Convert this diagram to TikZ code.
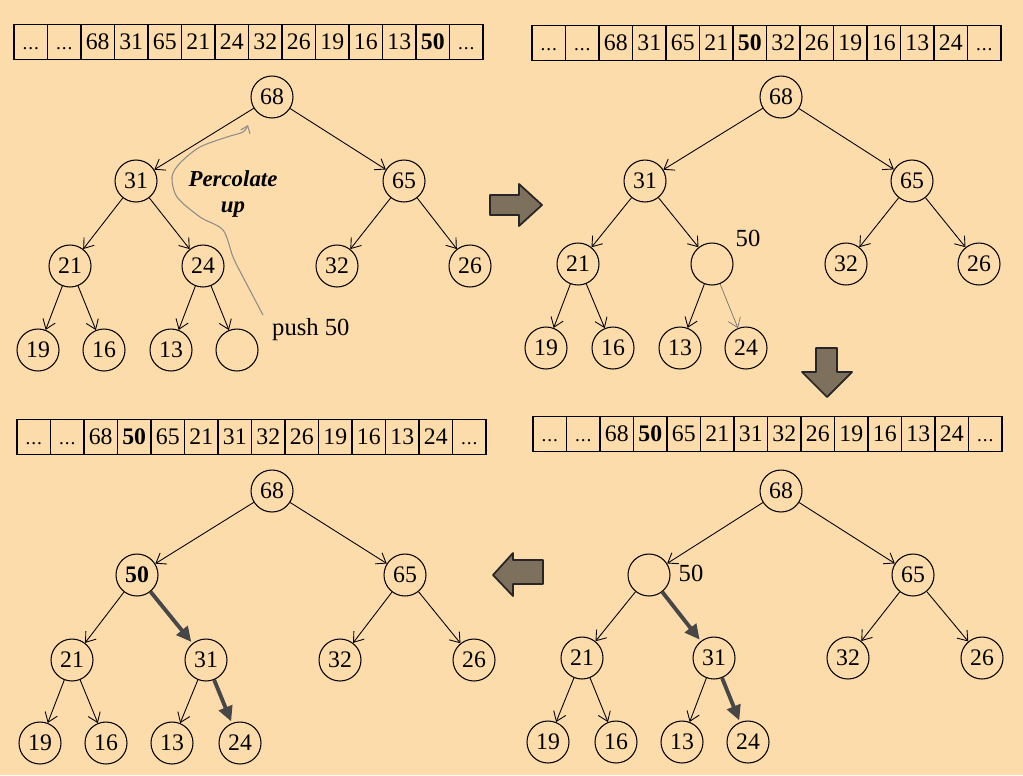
\documentclass[tikz,border=0pt]{standalone}
\usepackage{fontspec}
\setmainfont{Liberation Serif}
\usetikzlibrary{arrows.meta}
\definecolor{bg}{RGB}{252,220,170}
\definecolor{blockfill}{RGB}{125,112,92}
% dots kept on the digit baseline by a phantom digit
\newcommand\etcdots{\vphantom{0}{\fontsize{11}{13}\selectfont .\kern0.5pt.\kern0.5pt.}}
\newcommand\cellrow[4]{%
  \foreach \v [count=\i] in {#4} {
    \node[cell] (#1-\i) at ({#2+(\i-1)*33.5},#3) {\v};
  }}
\begin{document}
\begin{tikzpicture}[x=0.02cm,y=-0.02cm,
  key/.style={circle,draw,line width=0.6pt,minimum size=0.84cm,inner sep=0pt,font=\fontsize{13.5}{15}\selectfont},
  edge/.style={-{Straight Barb[length=1.8mm,width=2.6mm]},line width=0.5pt},
  faint/.style={edge,draw=black!55,line width=0.4pt},
  swap/.style={-{Triangle[length=3mm,width=2.8mm]},line width=2.2pt,draw=black!72,shorten >=1pt},
  cell/.style={draw,line width=0.7pt,minimum width=0.67cm,minimum height=0.7cm,inner sep=0pt,outer sep=0pt,anchor=west,font=\fontsize{13.5}{15}\selectfont},
  block/.style={fill=blockfill,draw=black!85,line width=1pt,line join=round},
  lbl/.style={font=\fontsize{14}{16}\selectfont}]

% background
\fill[bg] (0,0) rectangle (1023,775);

% ---------- step 1: push 50 at the end ----------
\cellrow{A}{14}{42}{\etcdots,\etcdots,68,31,65,21,24,32,26,19,16,13,{\textbf{50}},\etcdots}
\node[key] (A68) at (272,97) {68};
\node[key] (A31) at (136,181) {31};
\node[key] (A65) at (404,181) {65};
\node[key] (A21) at (70,266) {21};
\node[key] (A24) at (203,266) {24};
\node[key] (A32) at (337,266) {32};
\node[key] (A26) at (470,266) {26};
\node[key] (A19) at (38,350) {19};
\node[key] (A16) at (104,350) {16};
\node[key] (A13) at (171,350) {13};
\node[key] (Anew) at (237,350) {};
\node[lbl,anchor=west] (Apush) at (266,330) {push 50};
\draw[edge] (A68) -- (A31);
\draw[edge] (A68) -- (A65);
\draw[edge] (A31) -- (A21);
\draw[edge] (A31) -- (A24);
\draw[edge] (A65) -- (A32);
\draw[edge] (A65) -- (A26);
\draw[edge] (A21) -- (A19);
\draw[edge] (A21) -- (A16);
\draw[edge] (A24) -- (A13);
\draw[edge] (A24) -- (Anew);
\node[lbl,font=\fontsize{13}{15}\selectfont\bfseries\itshape,align=center] (Aperc) at (233,194) {Percolate\\up};
\draw[black!45,line width=0.6pt,-{Straight Barb[length=1.3mm,width=2mm]}]
  plot[smooth] coordinates {(263,315) (243,277) (233,257) (223,230) (200,217)
  (177,197) (172,177) (180,163) (200,147) (227,137) (243,132) (248,125)};

% block arrow to the right
\draw[block] (490,195) -- (519,195) -- (519,184) -- (542,205) -- (519,226) -- (519,215) -- (490,215) -- cycle;

% ---------- step 2: 50 swaps with 24 ----------
\cellrow{B}{532}{43}{\etcdots,\etcdots,68,31,65,21,{\textbf{50}},32,26,19,16,13,24,\etcdots}
\node[key] (B68) at (781,97) {68};
\node[key] (B31) at (645,181) {31};
\node[key] (B65) at (912,181) {65};
\node[key] (B21) at (578,264) {21};
\node[key] (Bhole) at (712,264) {};
\node[key] (B32) at (846,264) {32};
\node[key] (B26) at (979,264) {26};
\node[key] (B19) at (546,348) {19};
\node[key] (B16) at (613,348) {16};
\node[key] (B13) at (680,348) {13};
\node[key] (B24) at (746,348) {24};
\node[lbl] (B50) at (748,238) {50};
\draw[edge] (B68) -- (B31);
\draw[edge] (B68) -- (B65);
\draw[edge] (B31) -- (B21);
\draw[edge] (B31) -- (Bhole);
\draw[edge] (B65) -- (B32);
\draw[edge] (B65) -- (B26);
\draw[edge] (B21) -- (B19);
\draw[edge] (B21) -- (B16);
\draw[edge] (Bhole) -- (B13);
\draw[faint] (Bhole) -- (B24);

% block arrow downwards
\draw[block] (816,348) -- (837,348) -- (837,372) -- (852,372) -- (827,397) -- (802,372) -- (816,372) -- cycle;

% ---------- step 3: 50 swaps with 31 ----------
\cellrow{C}{533}{434}{\etcdots,\etcdots,68,{\textbf{50}},65,21,31,32,26,19,16,13,24,\etcdots}
\node[key] (C68) at (781,491) {68};
\node[key] (Chole) at (649,575) {};
\node[key] (C65) at (913,575) {65};
\node[key] (C21) at (582,658) {21};
\node[key] (C31) at (714,658) {31};
\node[key] (C32) at (848,658) {32};
\node[key] (C26) at (982,658) {26};
\node[key] (C19) at (548,742) {19};
\node[key] (C16) at (616,742) {16};
\node[key] (C13) at (682,742) {13};
\node[key] (C24) at (748,742) {24};
\node[lbl] (C50) at (691,573) {50};
\draw[edge] (C68) -- (Chole);
\draw[edge] (C68) -- (C65);
\draw[edge] (Chole) -- (C21);
\draw[swap] (Chole) -- (C31);
\draw[edge] (C65) -- (C32);
\draw[edge] (C65) -- (C26);
\draw[edge] (C21) -- (C19);
\draw[edge] (C21) -- (C16);
\draw[edge] (C31) -- (C13);
\draw[swap] (C31) -- (C24);

% block arrow to the left
\draw[block] (543,560) -- (513,560) -- (513,553) -- (493,575) -- (513,596) -- (513,584) -- (543,584) -- cycle;

% ---------- step 4: final heap ----------
\cellrow{D}{17}{437}{\etcdots,\etcdots,68,{\textbf{50}},65,21,31,32,26,19,16,13,24,\etcdots}
\node[key] (D68) at (272,491) {68};
\node[key,font=\fontsize{13.5}{15}\selectfont\bfseries] (D50) at (137,575) {50};
\node[key] (D65) at (405,575) {65};
\node[key] (D21) at (72,660) {21};
\node[key] (D31) at (206,660) {31};
\node[key] (D32) at (340,660) {32};
\node[key] (D26) at (474,660) {26};
\node[key] (D19) at (40,743) {19};
\node[key] (D16) at (106,743) {16};
\node[key] (D13) at (172,743) {13};
\node[key] (D24) at (240,743) {24};
\draw[edge] (D68) -- (D50);
\draw[edge] (D68) -- (D65);
\draw[edge] (D50) -- (D21);
\draw[swap] (D50) -- (D31);
\draw[edge] (D65) -- (D32);
\draw[edge] (D65) -- (D26);
\draw[edge] (D21) -- (D19);
\draw[edge] (D21) -- (D16);
\draw[edge] (D31) -- (D13);
\draw[swap] (D31) -- (D24);
\end{tikzpicture}
\end{document}
